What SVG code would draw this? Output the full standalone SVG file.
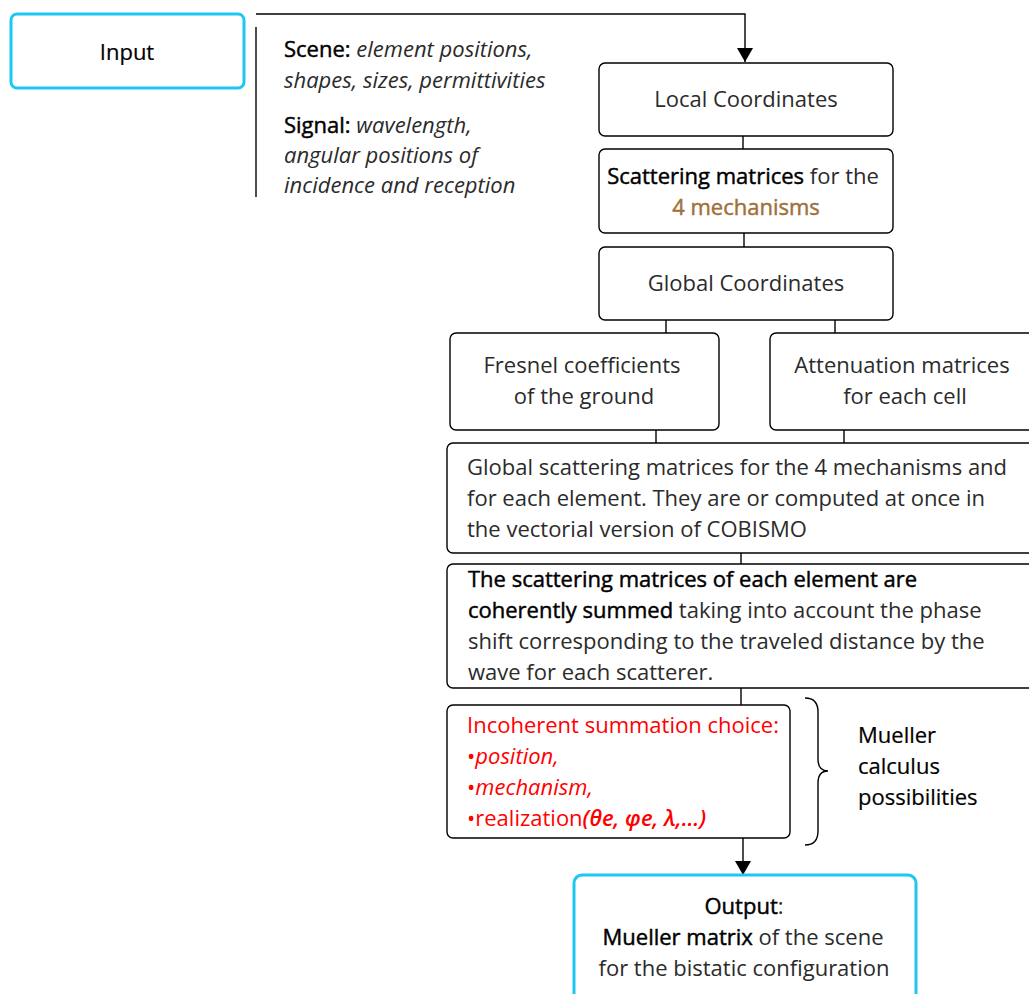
<svg xmlns="http://www.w3.org/2000/svg" width="1029" height="994" viewBox="0 0 1029 994">
<defs>
<marker id="arr" viewBox="0 0 14 16" refX="14" refY="8" markerWidth="14" markerHeight="16" markerUnits="userSpaceOnUse" orient="auto">
<path d="M0,0 L14,8 L0,16 Z" fill="#000"/>
</marker>
<style>
text{font-family:"Open Sans","Noto Sans",sans-serif;font-size:22px;fill:#2b2b2b}
.c{text-anchor:middle}
.b{fill:#000;stroke:#000;stroke-width:0.45}
.k{fill:#000;stroke:#000;stroke-width:0.2}
.i{font-style:italic}
.box{fill:#fff;stroke:#000;stroke-width:1.4}
.io{fill:#fff;stroke:#1CC7F2;stroke-width:3}
.ln{fill:none;stroke:#000;stroke-width:1.4}
.red{fill:#ff0000}
.brown{fill:#A0703C;stroke:#A0703C;stroke-width:0.45}
</style>
</defs>
<rect width="1029" height="994" fill="#fff"/>

<g id="connectors">
<path class="ln" d="M256,14 H745 V62" marker-end="url(#arr)"/>
<path class="ln" d="M256,27 V197"/>
<path class="ln" d="M743,136 V149"/>
<path class="ln" d="M744,233 V247"/>
<path class="ln" d="M666,320 V333"/>
<path class="ln" d="M835,320 V333"/>
<path class="ln" d="M656,430 V443"/>
<path class="ln" d="M844,430 V443"/>
<path class="ln" d="M741,553 V564"/>
<path class="ln" d="M741,688 V705"/>
<path class="ln" d="M743,838 V875" marker-end="url(#arr)"/>
<path class="ln" d="M805,698 Q818,698 818,712 V759 Q818,771 828,771 Q818,771 818,783 V831 Q818,845 805,845"/>
</g>

<g id="input">
<rect class="io" x="11" y="14" width="233" height="74" rx="6"/>
<text class="c k" x="127" y="60">Input</text>
</g>

<g id="input-params">
<text x="284" y="57"><tspan class="b">Scene:</tspan><tspan class="i"> element positions,</tspan></text>
<text x="284" y="88" class="i">shapes, sizes, permittivities</text>
<text x="284" y="133"><tspan class="b">Signal:</tspan><tspan class="i"> wavelength,</tspan></text>
<text x="284" y="163" class="i">angular positions of</text>
<text x="284" y="193" class="i">incidence and reception</text>
</g>

<g id="local">
<rect class="box" x="599" y="63" width="294" height="73" rx="6"/>
<text class="c" x="746" y="107">Local Coordinates</text>
</g>

<g id="scattering">
<rect class="box" x="599" y="149" width="294" height="84" rx="6"/>
<text class="c" x="743" y="184"><tspan class="b">Scattering matrices</tspan> for the</text>
<text class="c brown" x="746" y="215">4 mechanisms</text>
</g>

<g id="global">
<rect class="box" x="599" y="247" width="294" height="73" rx="6"/>
<text class="c" x="746" y="291">Global Coordinates</text>
</g>

<g id="fresnel">
<rect class="box" x="450" y="333" width="269" height="97" rx="6"/>
<text class="c" x="582" y="373">Fresnel coefficients</text>
<text class="c" x="584" y="404">of the ground</text>
</g>

<g id="attenuation">
<rect class="box" x="770" y="333" width="270" height="97" rx="6"/>
<text class="c" x="902" y="373">Attenuation matrices</text>
<text class="c" x="905" y="404">for each cell</text>
</g>

<g id="global-scattering">
<rect class="box" x="447" y="443" width="600" height="110" rx="6"/>
<text x="467" y="475">Global scattering matrices for the 4 mechanisms and</text>
<text x="467" y="506">for each element. They are or computed at once in</text>
<text x="467" y="537">the vectorial version of COBISMO</text>
</g>

<g id="coherent">
<rect class="box" x="447" y="564" width="600" height="124" rx="6"/>
<text x="468" y="587" class="b">The scattering matrices of each element are</text>
<text x="468" y="618"><tspan class="b">coherently summed</tspan> taking into account the phase</text>
<text x="468" y="649">shift corresponding to the traveled distance by the</text>
<text x="468" y="680">wave for each scatterer.</text>
</g>

<g id="incoherent">
<rect class="box" x="447" y="705" width="343" height="133" rx="6"/>
<text x="467" y="733" class="red">Incoherent summation choice:</text>
<text x="467" y="764" class="red">•<tspan class="i">position,</tspan></text>
<text x="467" y="795" class="red">•<tspan class="i">mechanism,</tspan></text>
<text x="467" y="826" class="red">•realization<tspan class="i" style="font-weight:600">(θe, φe, λ,…)</tspan></text>
</g>

<g id="mueller-note">
<text class="k" x="858" y="743">Mueller</text>
<text class="k" x="858" y="774">calculus</text>
<text class="k" x="858" y="805">possibilities</text>
</g>

<g id="output">
<rect class="io" x="574" y="875" width="342" height="130" rx="8"/>
<text class="c" x="744" y="914"><tspan class="b">Output</tspan>:</text>
<text class="c" x="743" y="945"><tspan class="b">Mueller matrix</tspan> of the scene</text>
<text class="c" x="744" y="976">for the bistatic configuration</text>
</g>
</svg>
